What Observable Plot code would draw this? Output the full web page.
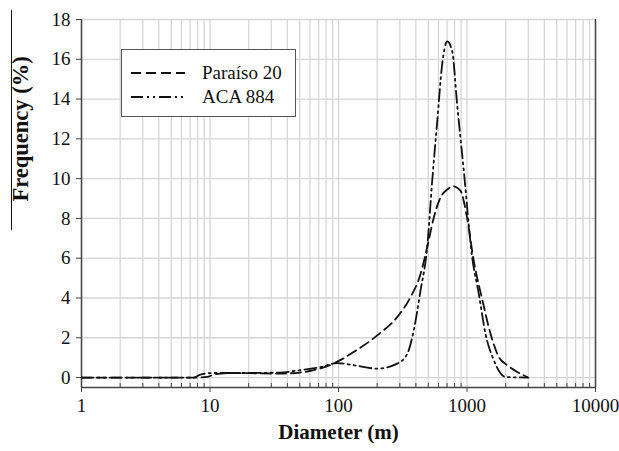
<!DOCTYPE html>
<html><head><meta charset="utf-8">
<script src="https://cdn.jsdelivr.net/npm/d3@7"></script>
<script src="https://cdn.jsdelivr.net/npm/@observablehq/plot@0.6"></script>
<style>
body{margin:0;background:#fff;}
#wrap{position:relative;width:619px;height:451px;font-family:"Liberation Serif","Times New Roman",serif;}
#legend{position:absolute;left:121px;top:49px;width:173px;height:66px;border:1.3px solid #555;background:#fff;}
.row{position:absolute;left:9px;height:24px;display:flex;align-items:center;}
.row span{margin-left:17px;font-size:19px;color:#111;}
#overline{position:absolute;left:10.5px;top:10px;width:1.4px;height:220px;background:#111;}
</style></head>
<body><div id="wrap"><div id="chart"></div><div id="overline"></div><div id="legend"></div></div>
<script>
// Diameter values (m) and frequency (%)
const paraisoD = [1, 2, 5, 8, 9.5, 10.7, 14.4, 20, 35, 50, 64, 89, 131, 200, 286, 363, 435, 490, 552, 622, 700, 780, 890, 1000, 1130, 1320, 1524, 1770, 2056, 2460, 2940];
const paraisoF = [0, 0, 0, 0, 0.03, 0.15, 0.23, 0.22, 0.2, 0.25, 0.37, 0.67, 1.28, 2.12, 3.04, 4.04, 5.2, 6.55, 8.05, 9.05, 9.45, 9.62, 9.39, 8.05, 5.85, 3.87, 2.2, 1.03, 0.62, 0.28, 0.03];
const acaD = [1, 2, 5, 7.5, 8.4, 10.7, 19.5, 35, 50, 72.5, 97.6, 131, 200, 286, 343, 385, 435, 490, 536, 587, 641, 701, 767, 839, 944, 1097, 1236, 1393, 1617, 1990, 3000];
const acaF = [0, 0, 0, 0, 0.15, 0.23, 0.23, 0.25, 0.37, 0.53, 0.73, 0.62, 0.45, 0.7, 1.2, 2.37, 4.38, 6.55, 9.89, 12.9, 15.74, 16.9, 16.4, 13.7, 10.4, 6.05, 4.2, 2.2, 0.87, 0.03, 0];
const seriesNames = ["Paraíso 20", "ACA 884"];
const seriesDash = ["10,5", "12,4,2,4,2,4"];
const xTicks = [1, 10, 100, 1000, 10000];
const yTicks = [0, 2, 4, 6, 8, 10, 12, 14, 16, 18];
const minorMult = [2, 3, 4, 5, 6, 7, 8, 9];

const minor = [];
for (const d of [1, 10, 100, 1000]) for (const k of minorMult) minor.push(d * k);
const allGrid = xTicks.concat(minor);

const paraiso = paraisoD.map((d, i) => ({d, f: paraisoF[i]}));
const aca = acaD.map((d, i) => ({d, f: acaF[i]}));
const axisColor = "#444";
const fam = "'Liberation Serif','Times New Roman',serif";

const chart = Plot.plot({
  width: 619, height: 451,
  marginLeft: 81, marginRight: 24, marginTop: 19, marginBottom: 64,
  x: {type: "log", domain: [1, 10000]},
  y: {domain: [-0.5, 18]},
  style: {fontFamily: fam, fontSize: "19px", color: "#111", background: "transparent"},
  marks: [
    Plot.gridX(allGrid, {stroke: "#d6d6d6", strokeOpacity: 1, strokeWidth: 1.3}),
    Plot.gridY(yTicks, {stroke: "#d6d6d6", strokeOpacity: 1, strokeWidth: 1.3}),
    Plot.ruleX(minor, {y1: -0.5, y2: -0.3, stroke: axisColor, strokeWidth: 1}),
    Plot.ruleY([-0.5], {stroke: axisColor, strokeWidth: 1.5}),
    Plot.ruleX([1, 10000], {stroke: axisColor, strokeWidth: 1.5}),
    Plot.axisX(xTicks, {tickSize: 5, tickPadding: 6, tickFormat: d => String(d), label: null, stroke: axisColor, fontFamily: fam, fontSize: 19}),
    Plot.axisY(yTicks, {tickSize: 5, tickPadding: 6, label: null, stroke: axisColor, fontFamily: fam, fontSize: 19}),
    Plot.line(paraiso, {x: "d", y: "f", curve: "monotone-x", stroke: "#111", strokeWidth: 1.8, strokeDasharray: seriesDash[0]}),
    Plot.line(aca, {x: "d", y: "f", curve: "monotone-x", stroke: "#111", strokeWidth: 1.8, strokeDasharray: seriesDash[1]}),
    Plot.text(["Diameter (m)"], {frameAnchor: "bottom", dy: 51, fontWeight: "bold", fontSize: 21, fontFamily: fam, fill: "#111"}),
    Plot.text(["Frequency (%)"], {frameAnchor: "left", dx: -61, dy: -2, rotate: -90, fontWeight: "bold", fontSize: 22.5, fontFamily: fam, fill: "#111"})
  ]
});
document.getElementById("chart").appendChild(chart);

const legend = document.getElementById("legend");
seriesNames.forEach((name, i) => {
  const row = document.createElement("div");
  row.className = "row";
  row.style.top = (11 + i * 24) + "px";
  row.innerHTML = `<svg width="54" height="10"><line x1="0" y1="5" x2="54" y2="5" stroke="#111" stroke-width="1.8" stroke-dasharray="${seriesDash[i]}"/></svg><span>${name}</span>`;
  legend.appendChild(row);
});
</script>
</body></html>
